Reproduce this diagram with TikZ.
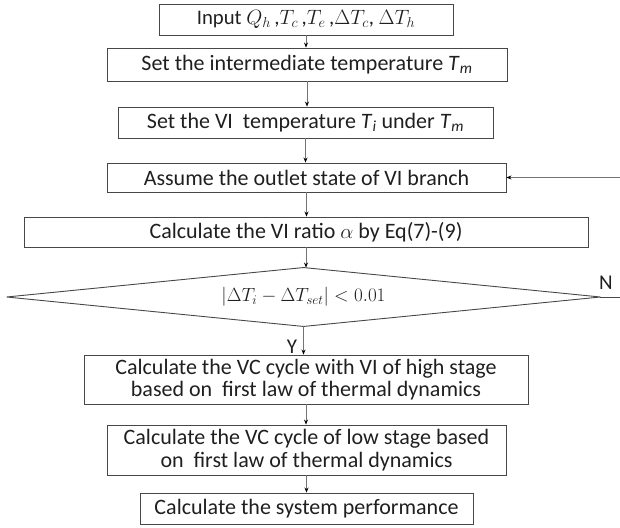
\documentclass[tikz,border=0pt]{standalone}
\usepackage{fontspec}
\setmainfont{Carlito}
\usetikzlibrary{arrows.meta}
\begin{document}
\begin{tikzpicture}[x=1pt,y=-1pt,
  box/.style={draw=black!72,line width=0.9pt,inner sep=0pt,align=center,text=black!88,
    font=\fontsize{22}{22.7}\selectfont},
  arr/.style={draw=black!55,line width=0.7pt,-{Stealth[length=5pt,width=4pt,black]}},
  lbl/.style={inner sep=0pt,text=black!88,font=\fontsize{21}{22}\selectfont}]
\useasboundingbox (0,0) rectangle (620,527);
\node[box,minimum width=294pt,minimum height=31pt,font=\fontsize{20.74}{22}\selectfont] (b1) at (306,19.5)
  {Input $Q_h$\,,$T_c$\,,$T_e$\,,$\Delta T_c$, $\Delta T_h$};
\node[box,minimum width=400pt,minimum height=33pt] (b2) at (307,64.5)
  {Set the intermediate temperature \textit{T}\textsubscript{\textit{m}}};
\node[box,minimum width=375pt,minimum height=31pt] (b3) at (305.5,122.5)
  {Set the VI\ \ temperature \textit{T}\textsubscript{\textit{i}} under \textit{T}\textsubscript{\textit{m}}};
\node[box,minimum width=399pt,minimum height=29pt] (b4) at (306.5,177.5)
  {Assume the outlet state of VI branch};
\node[box,minimum width=564pt,minimum height=30pt] (b5) at (306,232)
  {Calculate the VI ratio $\alpha$ by Eq(7)-(9)};
\node[box,draw=none,minimum width=593pt,minimum height=58pt,font=\fontsize{20.74}{22}\selectfont] (d) at (303.5,297)
  {\scalebox{0.92}{$|\Delta T_i-\Delta T_{set}|<0.01$}};
\draw[draw=black!72,line width=0.9pt] (d.west) -- (d.north) -- (d.east) -- (d.south) -- cycle;
\node[box,minimum width=444pt,minimum height=49pt] (b6) at (306,379.5)
  {Calculate the VC cycle with VI of high stage\\based on\ \ first law of thermal dynamics};
\node[box,minimum width=399pt,minimum height=50pt] (b7) at (306.5,450)
  {Calculate the VC cycle of low stage based\\on\ \ first law of thermal dynamics};
\node[box,minimum width=333pt,minimum height=31pt] (b8) at (306.5,508.5)
  {Calculate the system performance};
\coordinate (fb) at (620,177.5);
\coordinate (ne) at (620,297);
\draw[arr] (b1.south) -- (b1.south |- b2.north);
\draw[arr] (b2.south) -- (b2.south |- b3.north);
\draw[arr] (b3.south) -- (b3.south |- b4.north);
\draw[arr] (b4.south) -- (b4.south |- b5.north);
\draw[arr] (b5.south) -- (b5.south |- d.north);
\draw[arr] (d.south) -- (d.south |- b6.north);
\draw[arr] (b6.south) -- (b6.south |- b7.north);
\draw[arr] (b7.south) -- (b7.south |- b8.north);
\draw[arr] (fb) -- (b4.east);
\draw[draw=black!72,line width=0.9pt] (d.east) -- (ne);
\node[lbl] (ylab) at (292,347) {Y};
\node[lbl] (nlab) at (606,283) {N};
\end{tikzpicture}
\end{document}
